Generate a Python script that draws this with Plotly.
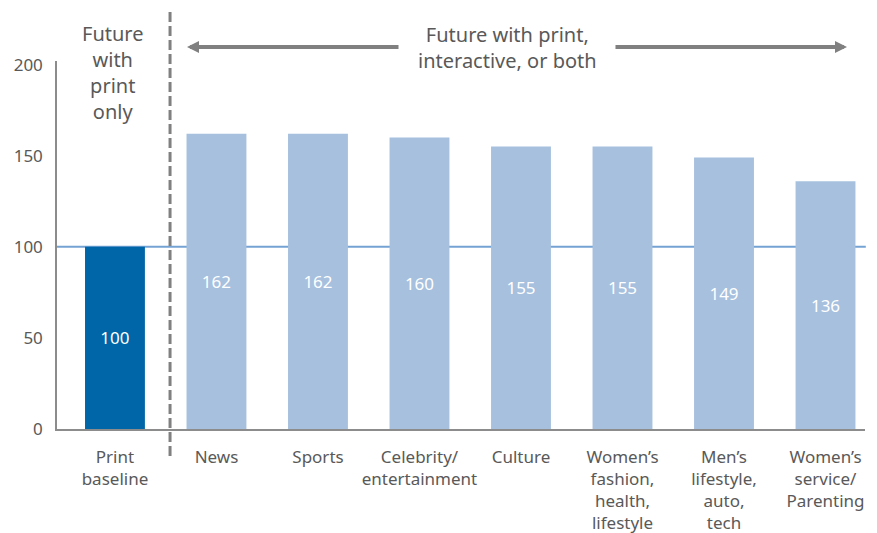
import plotly.graph_objects as go

categories = ["Print<br>baseline", "News", "Sports", "Celebrity/<br>entertainment", "Culture",
              "Women’s<br>fashion,<br>health,<br>lifestyle", "Men’s<br>lifestyle,<br>auto,<br>tech",
              "Women’s<br>service/<br>Parenting"]
values = [100, 162, 162, 160, 155, 155, 149, 136]
value_labels = [str(v) for v in values]
y_ticks = [0, 50, 100, 150, 200]
baseline_value = 100

DARK = "#0066a8"
LIGHT = "#a6c0de"
GREY_TXT = "#595959"
GREY_LINE = "#808080"
FONT = "Noto Sans"

colors = [DARK] + [LIGHT] * (len(values) - 1)

fig = go.Figure()
fig.add_trace(go.Bar(
    x=categories, y=values, marker=dict(color=colors, line=dict(width=0)),
    width=0.59, text=value_labels, textposition="inside", insidetextanchor="middle",
    textangle=0, textfont=dict(color="white", size=17, family=FONT),
    hoverinfo="skip", cliponaxis=False,
))

fig.update_layout(
    width=877, height=533,
    margin=dict(l=57, r=12, t=61, b=104, autoexpand=False),
    plot_bgcolor="white", paper_bgcolor="white",
    showlegend=False,
    font=dict(family=FONT, color=GREY_TXT, size=17),
    xaxis=dict(
        range=[-0.571, 7.389], showgrid=False, zeroline=False,
        showline=True, linecolor="#8c8c8c", linewidth=1.5,
        ticks="", tickfont=dict(size=17, color=GREY_TXT, family=FONT),
        ticklabelstandoff=12, automargin=False,
    ),
    yaxis=dict(
        range=[0, 202], tickvals=y_ticks, showgrid=False, zeroline=False,
        showline=True, linecolor="#8c8c8c", linewidth=1.5,
        ticks="", tickfont=dict(size=17, color=GREY_TXT, family=FONT),
        ticklabelstandoff=9, automargin=False,
    ),
    bargap=0.41,
)

# baseline reference line at 100 (behind bars)
fig.add_shape(type="line", xref="paper", yref="y", x0=0, x1=1.001,
              y0=baseline_value, y1=baseline_value,
              line=dict(color="#74a3d3", width=2), layer="below")

# dashed separator
fig.add_shape(type="line", xref="paper", yref="paper", x0=0.1399, x1=0.1399,
              y0=-0.0734, y1=1.1386,
              line=dict(color=GREY_LINE, width=3, dash="10px,4px"), layer="above")

# group headers
fig.add_annotation(xref="paper", yref="paper", x=0.0693, y=0.970,
                   xanchor="center", yanchor="middle",
                   text="Future<br>with<br>print<br>only", showarrow=False,
                   font=dict(size=20, color=GREY_TXT, family=FONT), align="center")
fig.add_annotation(xref="paper", yref="paper", x=0.557, y=1.038,
                   xanchor="center", yanchor="middle",
                   text="Future with print,<br>interactive, or both", showarrow=False,
                   font=dict(size=20, color=GREY_TXT, family=FONT), align="center")

# arrows
fig.add_annotation(xref="paper", yref="paper", x=0.1609, y=1.038, ax=213, ay=0,
                   text="", showarrow=True, arrowhead=2, arrowsize=0.6,
                   arrowwidth=4, arrowcolor=GREY_LINE, standoff=0)
fig.add_annotation(xref="paper", yref="paper", x=0.9777, y=1.038, ax=-233, ay=0,
                   text="", showarrow=True, arrowhead=2, arrowsize=0.6,
                   arrowwidth=4, arrowcolor=GREY_LINE, standoff=0)

fig.write_html("out.html", config={"displayModeBar": False},
               post_script="document.body.style.margin='0';")
